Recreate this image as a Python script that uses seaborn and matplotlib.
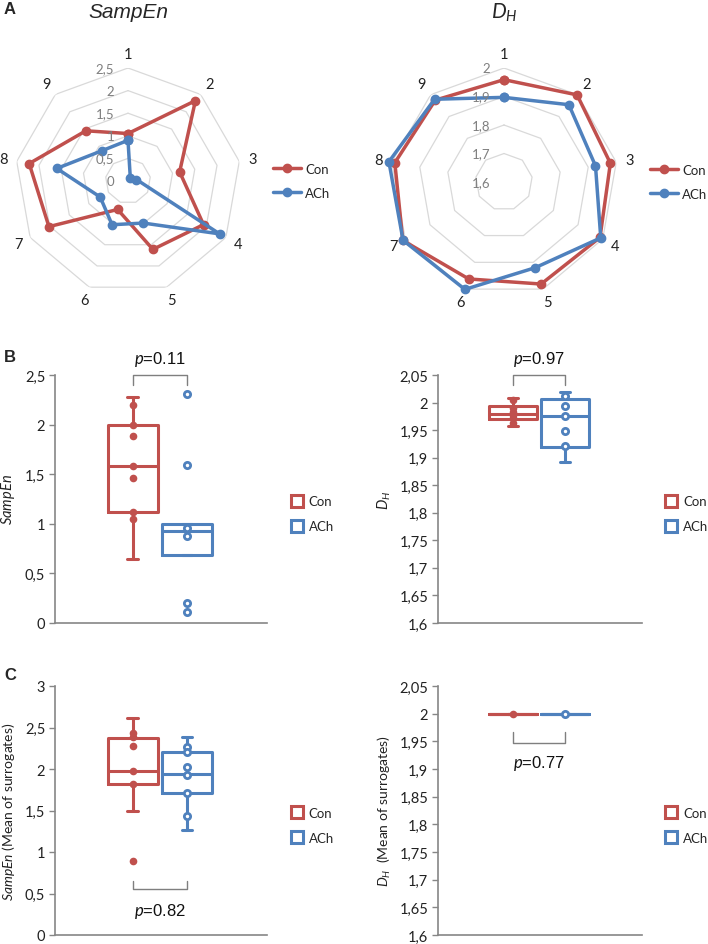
import numpy as np
import pandas as pd
import matplotlib
matplotlib.use('Agg')
import matplotlib.pyplot as plt
import seaborn as sns
from matplotlib.lines import Line2D
from matplotlib.ticker import FuncFormatter, MultipleLocator

sns.set_theme(style='white')
plt.rcParams['font.family'] = ['Lato', 'DejaVu Sans']
plt.rcParams['mathtext.fontset'] = 'custom'
plt.rcParams['mathtext.it'] = 'Lato:italic'
plt.rcParams['mathtext.rm'] = 'Lato'

RED = '#C0504D'
BLUE = '#4F81BD'
GRID = '#d9d9d9'
SPINE = '#868686'

groups = ['Con', 'ACh']

# --- panel A: radar data (9 cultures) ---
axis_labels = ['1', '2', '3', '4', '5', '6', '7', '8', '9']
sampen_con = [1.05, 2.32, 1.16, 1.93, 1.61, 0.67, 2.02, 2.22, 1.45]
sampen_ach = [0.90, 0.08, 0.19, 2.34, 0.99, 1.03, 0.71, 1.60, 0.88]
sampen_rings = [0.5, 1.0, 1.5, 2.0, 2.5]
sampen_ring_labels = ['0', '0,5', '1', '1,5', '2', '2,5']

dh_con = [1.959, 1.999, 1.979, 1.989, 1.981, 1.962, 2.010, 1.989, 1.975]
dh_ach = [1.897, 1.954, 1.926, 1.992, 1.920, 2.001, 2.009, 2.010, 1.979]
dh_rings = [1.7, 1.8, 1.9, 2.0]
dh_ring_labels = ['1,6', '1,7', '1,8', '1,9', '2']

# --- panel B: box stats (whislo, q1, med, q3, whishi) and points ---
b_sampen_con_box = [0.65, 1.12, 1.58, 2.00, 2.28]
b_sampen_ach_box = [0.69, 0.69, 0.93, 1.00, 1.00]
b_sampen_con_pts = [2.20, 2.00, 1.89, 1.58, 1.46, 1.12, 1.05]
b_sampen_ach_pts = [2.31, 1.59, 0.96, 0.88, 0.20, 0.11]

b_dh_con_box = [1.957, 1.970, 1.980, 1.993, 2.008]
b_dh_ach_box = [1.893, 1.920, 1.975, 2.007, 2.020]
b_dh_con_pts = [2.004, 1.991, 1.982, 1.978, 1.972, 1.962]
b_dh_ach_pts = [2.011, 1.994, 1.975, 1.949, 1.921]

# --- panel C: surrogates ---
c_sampen_con_box = [1.49, 1.82, 1.98, 2.37, 2.62]
c_sampen_ach_box = [1.26, 1.71, 1.94, 2.21, 2.39]
c_sampen_con_pts = [2.43, 2.39, 2.28, 1.98, 1.82, 0.89]
c_sampen_ach_pts = [2.27, 2.20, 2.02, 1.93, 1.71, 1.43]

c_dh_con_box = [2.0, 2.0, 2.0, 2.0, 2.0]
c_dh_ach_box = [2.0, 2.0, 2.0, 2.0, 2.0]
c_dh_con_pts = [2.0]
c_dh_ach_pts = [2.0]

p_values = ['0.11', '0.97', '0.82', '0.77']

fig = plt.figure(figsize=(7.08, 9.45), dpi=100)
W, H = 708, 945


def px_rect(x0, y0, x1, y1):
    return [x0 / W, 1 - y1 / H, (x1 - x0) / W, (y1 - y0) / H]


def comma(v, pos):
    return f'{v:g}'.replace('.', ',')


def radar(rect, con, ach, rings, ring_labels, rmin, legend_x):
    ax = fig.add_axes(rect, projection='polar')
    theta = np.linspace(0, 2 * np.pi, len(axis_labels), endpoint=False)
    closed = np.append(theta, theta[0])
    ax.set_theta_offset(np.pi / 2)
    ax.set_theta_direction(-1)
    for r in rings:
        ax.plot(closed, [r] * len(closed), color=GRID, lw=0.9, zorder=1)
    for vals, col, name in [(con, RED, 'Con'), (ach, BLUE, 'ACh')]:
        ax.plot(closed, np.append(vals, vals[0]), color=col, lw=2.5, marker='o',
                ms=6, label=name, clip_on=False, zorder=3)
    ax.set_ylim(rmin, rings[-1])
    ax.grid(False)
    ax.spines['polar'].set_visible(False)
    ax.patch.set_alpha(0)
    ax.set_yticks([])
    ax.set_xticks(theta)
    ax.set_xticklabels(axis_labels, fontsize=10.5, color='#222222')
    ax.tick_params(axis='x', pad=-3)
    for r, lab in zip([rmin] + rings, ring_labels):
        ax.annotate(lab, xy=(0, r), xytext=(-10, 0), textcoords='offset points',
                    ha='right', va='center', fontsize=9.5, color='#7f7f7f')
    ax.legend(loc='center left', bbox_to_anchor=(legend_x, 0.5), frameon=False,
              fontsize=9.5, handlelength=2.1, labelspacing=0.9, handletextpad=0.3)
    return ax


radar(px_rect(15, 69, 241, 295), sampen_con, sampen_ach, sampen_rings,
      sampen_ring_labels, 0, 1.09)
radar(px_rect(390, 69, 618, 297), dh_con, dh_ach, dh_rings,
      dh_ring_labels, 1.6, 1.09)
fig.text(128 / W, 1 - 13 / H, 'SampEn', fontsize=15, style='italic',
         family='Liberation Sans', ha='center', va='center')
fig.text(504 / W, 1 - 13 / H, r'$D_H$', fontsize=15, ha='center', va='center')


def box_panel(rect, con_box, ach_box, con_pts, ach_pts, ylim, step, ylabel,
              label_x, bracket, p_text, ylabel_size=10.5):
    ax = fig.add_axes(rect)
    df = pd.DataFrame({'group': ['Con'] * len(con_pts) + ['ACh'] * len(ach_pts),
                       'value': con_pts + ach_pts})
    for grp, col in [('Con', RED), ('ACh', BLUE)]:
        sub = df[df['group'] == grp]
        box = con_box if grp == 'Con' else ach_box
        pos = groups.index(grp)
        stats = dict(whislo=box[0], q1=box[1], med=box[2], q3=box[3], whishi=box[4])
        lp = dict(color=col, lw=2.2)
        ax.bxp([stats], positions=[pos], widths=0.93, showfliers=False,
               boxprops=lp, whiskerprops=lp, capprops=lp, medianprops=lp,
               capwidths=0.2, manage_ticks=False)
        if grp == 'Con':
            sns.stripplot(data=sub, x='group', y='value', order=groups, jitter=False,
                          color=col, size=5.5, linewidth=0, ax=ax, zorder=4)
        else:
            sns.stripplot(data=sub, x='group', y='value', order=groups, jitter=False,
                          color='white', edgecolor=col, size=4.5, linewidth=2.0,
                          ax=ax, zorder=4)
    ax.set_xlim(-1.44, 2.48)
    ax.set_ylim(*ylim)
    ax.yaxis.set_major_locator(MultipleLocator(step))
    ax.yaxis.set_major_formatter(FuncFormatter(comma))
    ax.set_xticks([])
    ax.set_xlabel('')
    ax.set_ylabel(ylabel, fontsize=ylabel_size, color='#222222')
    ax.yaxis.set_label_coords(label_x, 0.5)
    for s in ['top', 'right']:
        ax.spines[s].set_visible(False)
    for s in ['left', 'bottom']:
        ax.spines[s].set_color(SPINE)
        ax.spines[s].set_linewidth(1.2)
    ax.tick_params(axis='y', left=True, length=4, width=1, color=SPINE,
                   labelsize=10.5, labelcolor='#222222', pad=3)
    # significance bracket
    y_line, y_tick, y_text = bracket
    ax.plot([0, 0, 1, 1], [y_tick, y_line, y_line, y_tick], color='#7f7f7f',
            lw=1, clip_on=False)
    ax.text(0.5, y_text, r'$p$=' + p_text, ha='center', va='center', fontsize=12,
            family='Liberation Sans', color='#111111', clip_on=False)
    handles = [Line2D([], [], marker='s', ls='none', mfc='white', mec=c, mew=2.2,
                      ms=9, label=g) for g, c in zip(groups, [RED, BLUE])]
    ax.legend(handles=handles, loc='center left', bbox_to_anchor=(1.053, 0.44),
              frameon=False, fontsize=9.5, handlelength=1.0, handletextpad=0.4,
              labelspacing=1.0)
    return ax


box_panel(px_rect(55, 376, 267, 624), b_sampen_con_box, b_sampen_ach_box,
          b_sampen_con_pts, b_sampen_ach_pts, (0, 2.5), 0.5, r'$SampEn$', -0.18,
          (2.5, 2.4, 2.67), p_values[0])
box_panel(px_rect(438, 376, 642, 624), b_dh_con_box, b_dh_ach_box,
          b_dh_con_pts, b_dh_ach_pts, (1.6, 2.05), 0.05, r'$D_H$', -0.22,
          (2.05, 2.032, 2.08), p_values[1])
box_panel(px_rect(55, 687, 267, 936), c_sampen_con_box, c_sampen_ach_box,
          c_sampen_con_pts, c_sampen_ach_pts, (0, 3), 0.5,
          r'$SampEn$ (Mean of surrogates)', -0.18, (0.55, 0.65, 0.30), p_values[2],
          ylabel_size=10)
box_panel(px_rect(438, 687, 642, 936), c_dh_con_box, c_dh_ach_box,
          c_dh_con_pts, c_dh_ach_pts, (1.6, 2.05), 0.05,
          r'$D_H$  (Mean of surrogates)', -0.22, (1.947, 1.967, 1.912), p_values[3],
          ylabel_size=10)

for letter, y in [('A', 10), ('B', 357), ('C', 675)]:
    fig.text(4 / W, 1 - y / H, letter, fontsize=12, fontweight='bold',
             family='Liberation Sans', va='center', ha='left')

fig.savefig('out.png', dpi=100)
